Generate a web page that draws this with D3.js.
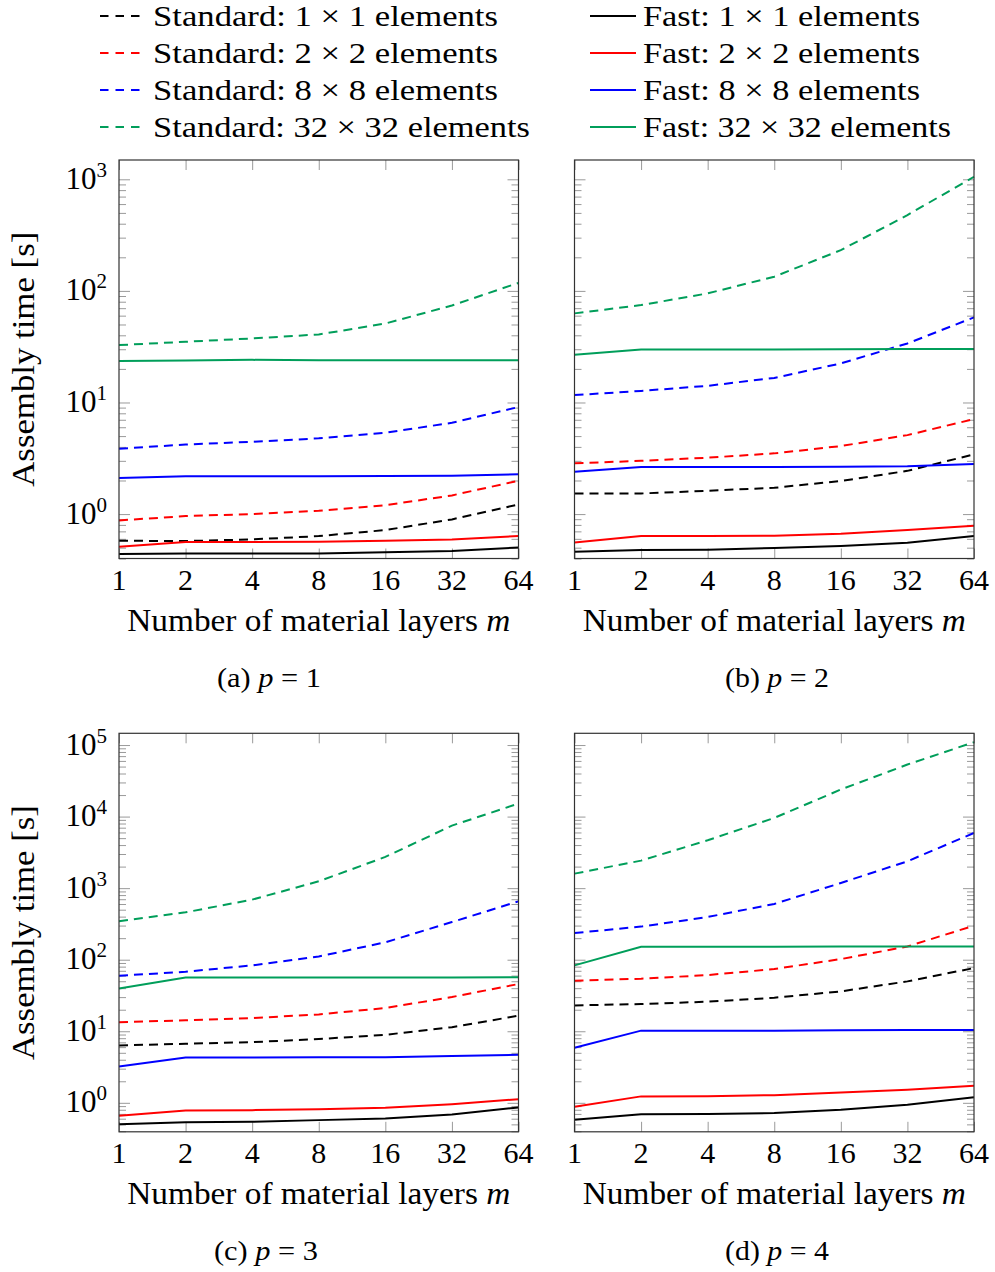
<!DOCTYPE html>
<html>
<head>
<meta charset="utf-8">
<script src="https://cdn.jsdelivr.net/npm/d3@7/dist/d3.min.js"></script>
<style>
    body { margin: 0; background: #fff; }
    svg, svg text { font-family: "Liberation Serif", "DejaVu Serif", "Times New Roman", serif; fill: #000; }
</style>
</head>
<body>
<svg id="chart" width="995" height="1272"></svg>
<script>
// number of material layers m (x axis)
var layers = [1, 2, 4, 8, 16, 32, 64];
var xTickLabels = ['1', '2', '4', '8', '16', '32', '64'];
var meshLabels = ['1 \u00d7 1', '2 \u00d7 2', '8 \u00d7 8', '32 \u00d7 32'];
var meshColors = ['#000000', '#ff0000', '#0000ff', '#009e5a'];

// assembly time [s], one row per mesh (1x1, 2x2, 8x8, 32x32)
var standardP1 = [
    [0.577, 0.573, 0.593, 0.635, 0.719, 0.896, 1.22],
    [0.877, 0.96, 1.0, 1.07, 1.2, 1.47, 1.99],
    [3.85, 4.2, 4.45, 4.77, 5.35, 6.58, 9.1],
    [32.7, 35, 37.5, 40.7, 51, 74, 118]
];
var fastP1 = [
    [0.438, 0.444, 0.444, 0.444, 0.454, 0.466, 0.502],
    [0.509, 0.561, 0.561, 0.565, 0.577, 0.593, 0.635],
    [2.11, 2.18, 2.18, 2.18, 2.19, 2.2, 2.27],
    [23.5, 23.8, 24.1, 23.9, 23.9, 23.9, 23.9]
];
var standardP2 = [
    [1.53, 1.53, 1.62, 1.72, 1.98, 2.44, 3.43],
    [2.85, 3.0, 3.2, 3.5, 4.07, 5.1, 7.1],
    [11.65, 12.7, 14.1, 16.6, 22.4, 33.8, 57.9],
    [62.9, 74.6, 95, 134, 232, 478, 1054]
];
var fastP2 = [
    [0.459, 0.476, 0.48, 0.496, 0.517, 0.553, 0.635],
    [0.557, 0.635, 0.635, 0.64, 0.667, 0.719, 0.785],
    [2.39, 2.64, 2.64, 2.64, 2.66, 2.68, 2.81],
    [26.8, 29.9, 29.9, 29.9, 30, 30.1, 30.2]
];
var standardP3 = [
    [6.34, 6.69, 7.05, 7.77, 8.93, 11.4, 16.5],
    [13.4, 14.2, 15.3, 17.2, 21.1, 30.1, 45.7],
    [59.7, 67.9, 83.3, 111, 175, 336, 654],
    [344, 459, 691, 1246, 2730, 7480, 15200]
];
var fastP3 = [
    [0.503, 0.537, 0.542, 0.573, 0.604, 0.687, 0.861],
    [0.658, 0.782, 0.79, 0.816, 0.851, 0.958, 1.125],
    [3.22, 4.31, 4.31, 4.33, 4.33, 4.5, 4.69],
    [39.7, 56.6, 56.6, 56.6, 56.6, 56.6, 57]
];
var standardP4 = [
    [23.0, 24.0, 25.9, 29.4, 36.1, 49.8, 76.5],
    [50.9, 54.2, 61.0, 74.0, 102, 153, 299],
    [236, 290, 395, 601, 1181, 2373, 5910],
    [1596, 2426, 4670, 9580, 23900, 53400, 109600]
];
var fastP4 = [
    [0.578, 0.694, 0.70, 0.72, 0.798, 0.937, 1.2],
    [0.879, 1.23, 1.24, 1.28, 1.39, 1.52, 1.73],
    [5.88, 10.2, 10.2, 10.2, 10.3, 10.4, 10.4],
    [83.3, 152, 152, 152, 153, 153, 153]
];

var yLimitsTop = [Math.pow(10, -0.398), Math.pow(10, 3.173)];
var yLimitsBottom = [Math.pow(10, -0.405), Math.pow(10, 5.164)];

var panels = [
    {tag: 'a', p: 1, standard: standardP1, fast: fastP1, ylim: yLimitsTop, left: 119, top: 160, labels: true, capX: 269},
    {tag: 'b', p: 2, standard: standardP2, fast: fastP2, ylim: yLimitsTop, left: 574.5, top: 160, labels: false, capX: 777},
    {tag: 'c', p: 3, standard: standardP3, fast: fastP3, ylim: yLimitsBottom, left: 119, top: 733.3, labels: true, capX: 266},
    {tag: 'd', p: 4, standard: standardP4, fast: fastP4, ylim: yLimitsBottom, left: 574.5, top: 733.3, labels: false, capX: 777}
];

var plotW = 399.5, plotH = 398.5;
var tickColor = '#9a9a9a';
var fontFamily = '"Liberation Serif", "DejaVu Serif", serif';
var svg = d3.select('#chart').attr('font-family', fontFamily);

// stretch a text element to the width it has in the reference
function fitWidth(sel, w) {
    sel.attr('textLength', w).attr('lengthAdjust', 'spacingAndGlyphs');
    return sel;
}

function drawLegend() {
    var lg = svg.append('g').attr('class', 'legend');
    var rowY = [16, 53, 90, 127];
    var leftW = [345, 345, 345, 377];
    var rightW = [277, 277, 277, 308];

    meshLabels.forEach(function(lab, i) {
        lg.append('line')
            .attr('x1', 100).attr('x2', 146)
            .attr('y1', rowY[i]).attr('y2', rowY[i])
            .attr('stroke', meshColors[i]).attr('stroke-width', 2)
            .attr('stroke-dasharray', '8.5,7');
        fitWidth(lg.append('text')
            .attr('x', 153).attr('y', rowY[i] + 10)
            .attr('font-family', fontFamily)
            .style('font-size', '29px')
            .text('Standard: ' + lab + ' elements'), leftW[i]);

        lg.append('line')
            .attr('x1', 590).attr('x2', 636)
            .attr('y1', rowY[i]).attr('y2', rowY[i])
            .attr('stroke', meshColors[i]).attr('stroke-width', 2);
        fitWidth(lg.append('text')
            .attr('x', 643).attr('y', rowY[i] + 10)
            .attr('font-family', fontFamily)
            .style('font-size', '29px')
            .text('Fast: ' + lab + ' elements'), rightW[i]);
    });
}

function drawPanel(pn) {
    var g = svg.append('g').attr('transform', 'translate(' + pn.left + ',' + pn.top + ')');

    var x = d3.scaleLog().base(2).domain([1, 64]).range([0, plotW]);
    var y = d3.scaleLog().domain(pn.ylim).range([plotH, 0]);

    var kMin = Math.floor(Math.log10(pn.ylim[0])), kMax = Math.ceil(Math.log10(pn.ylim[1]));
    var majors = [], minors = [];
    for (var k = kMin; k <= kMax; k++) {
        var d = Math.pow(10, k);
        if (d >= pn.ylim[0] && d <= pn.ylim[1]) majors.push(d);
        for (var m = 2; m <= 9; m++) {
            if (m * d >= pn.ylim[0] && m * d <= pn.ylim[1]) minors.push(m * d);
        }
    }

    function styleTicks(sel) {
        sel.select('.domain').remove();
        sel.selectAll('.tick line').attr('stroke', tickColor).attr('stroke-width', 1);
    }

    g.append('g').call(d3.axisLeft(y).tickValues(minors).tickSize(-7).tickFormat('')).call(styleTicks);
    g.append('g').call(d3.axisLeft(y).tickValues(majors).tickSize(-11).tickFormat('')).call(styleTicks);
    g.append('g').attr('transform', 'translate(' + plotW + ',0)')
        .call(d3.axisRight(y).tickValues(minors).tickSize(-7).tickFormat('')).call(styleTicks);
    g.append('g').attr('transform', 'translate(' + plotW + ',0)')
        .call(d3.axisRight(y).tickValues(majors).tickSize(-11).tickFormat('')).call(styleTicks);
    g.append('g').attr('transform', 'translate(0,' + plotH + ')')
        .call(d3.axisBottom(x).tickValues(layers).tickSize(-10).tickFormat('')).call(styleTicks);
    g.append('g')
        .call(d3.axisTop(x).tickValues(layers).tickSize(-10).tickFormat('')).call(styleTicks);

    var line = d3.line()
        .x(function(d, i) { return x(layers[i]); })
        .y(function(d) { return y(d); });

    pn.standard.forEach(function(vals, i) {
        g.append('path').datum(vals)
            .attr('d', line).attr('fill', 'none')
            .attr('stroke', meshColors[i]).attr('stroke-width', 2)
            .attr('stroke-dasharray', '9,6');
    });
    pn.fast.forEach(function(vals, i) {
        g.append('path').datum(vals)
            .attr('d', line).attr('fill', 'none')
            .attr('stroke', meshColors[i]).attr('stroke-width', 2);
    });

    g.append('rect')
        .attr('width', plotW).attr('height', plotH)
        .attr('fill', 'none').attr('stroke', '#333').attr('stroke-width', 1.2);

    // x tick labels
    g.selectAll('.xlab').data(layers).enter().append('text')
        .attr('x', function(d) { return x(d); })
        .attr('y', plotH + 31.5)
        .attr('text-anchor', 'middle')
        .attr('font-family', fontFamily)
        .style('font-size', '30px')
        .text(function(d, i) { return xTickLabels[i]; });

    var xl = g.append('text')
        .attr('x', plotW / 2).attr('y', plotH + 72)
        .attr('text-anchor', 'middle')
        .attr('font-family', fontFamily)
        .style('font-size', '31px');
    xl.append('tspan').text('Number of material layers ');
    xl.append('tspan').style('font-style', 'italic').text('m');
    fitWidth(xl, 383);

    if (pn.labels) {
        majors.forEach(function(v) {
            var t = g.append('text')
                .attr('x', -12).attr('y', y(v) + 9.5)
                .attr('text-anchor', 'end')
                .attr('font-family', fontFamily)
                .style('font-size', '31px');
            t.append('tspan').text('10');
            t.append('tspan').attr('dy', -12).style('font-size', '21px')
                .text(Math.round(Math.log10(v)));
        });
        fitWidth(g.append('text')
            .attr('transform', 'translate(' + (-85.5) + ',' + (plotH / 2) + ') rotate(-90)')
            .attr('text-anchor', 'middle')
            .attr('font-family', fontFamily)
            .style('font-size', '32px')
            .text('Assembly time [s]'), 255);
    }

    var cap = svg.append('text')
        .attr('x', pn.capX).attr('y', pn.top + plotH + 128)
        .attr('text-anchor', 'middle')
        .attr('font-family', fontFamily)
        .style('font-size', '27px');
    cap.append('tspan').text('(' + pn.tag + ') ');
    cap.append('tspan').style('font-style', 'italic').text('p');
    cap.append('tspan').text(' = ' + pn.p);
    fitWidth(cap, 104);
}

drawLegend();
panels.forEach(drawPanel);
</script>
</body>
</html>
